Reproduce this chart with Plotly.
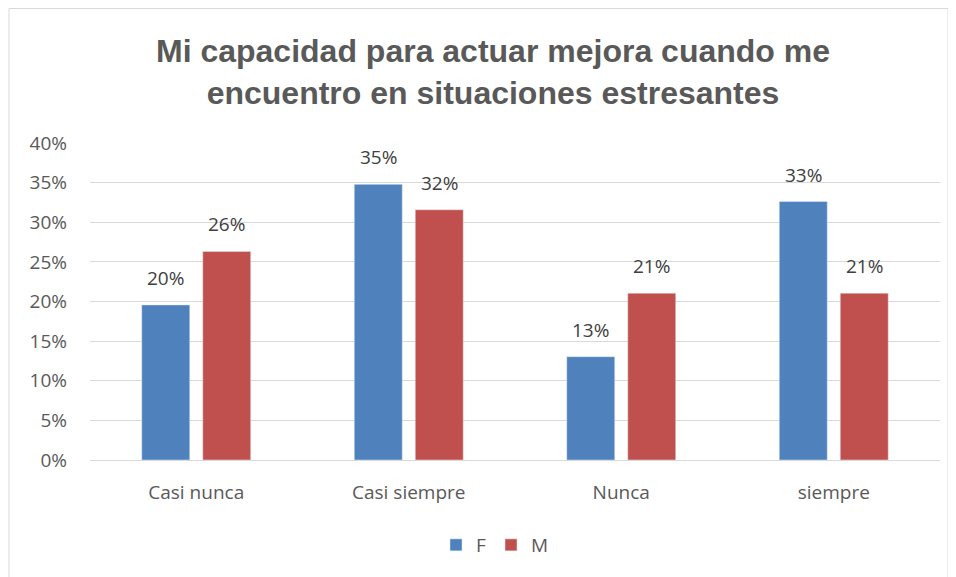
import plotly.graph_objects as go

categories = ["Casi nunca", "Casi siempre", "Nunca", "siempre"]
f_values = [0.1957, 0.3478, 0.1304, 0.3261]
m_values = [0.2632, 0.3158, 0.2105, 0.2105]
tick_vals = [0, 0.05, 0.10, 0.15, 0.20, 0.25, 0.30, 0.35, 0.40]
tick_text = ["0%", "5%", "10%", "15%", "20%", "25%", "30%", "35%", "40%"]

BLUE = "#4F81BD"
RED = "#C0504D"
TXT = "#595959"
FONT = "Open Sans, Lato, sans-serif"

W, H = 948, 569  # page body has an 8px margin
L, R, T, B = 82, 16, 135, 117
PW, PH = W - L - R, H - T - B

fig = go.Figure()
fig.add_trace(go.Bar(name="F", x=categories, y=f_values, marker_color=BLUE))
fig.add_trace(go.Bar(name="M", x=categories, y=m_values, marker_color=RED))

# value labels above the bars
slot = PW / len(categories) * (1 - 0.426) / 2
for series, sign in ((f_values, -1), (m_values, 1)):
    for c, v in zip(categories, series):
        fig.add_annotation(x=c, y=v, xref="x", yref="y", text=f"{v:.0%}",
                           showarrow=False, xshift=sign * slot / 2, yshift=27,
                           yanchor="middle",
                           font=dict(size=19, color="#404040", family=FONT))

fig.update_layout(
    width=W, height=H,
    margin=dict(l=L, r=R, t=T, b=B),
    paper_bgcolor="white", plot_bgcolor="white",
    barmode="group", bargap=0.426, bargroupgap=0.213,
    title=dict(text="<b>Mi capacidad para actuar mejora cuando me<br>encuentro en situaciones estresantes</b>",
               x=485/W, xanchor="center", y=1-54/H, yanchor="middle",
               font=dict(family="Liberation Sans, Arial, sans-serif", size=32, color=TXT)),
    font=dict(family=FONT, color=TXT, size=19),
    showlegend=True,
    legend=dict(orientation="h", x=487/W, xanchor="center", xref="container",
                y=1-537/H, yanchor="middle", yref="container",
                font=dict(size=19, color=TXT, family=FONT), itemwidth=30, traceorder="normal"),
)
fig.update_yaxes(range=[0, 0.40], tickvals=tick_vals, ticktext=tick_text,
                 showgrid=True, gridcolor="#D9D9D9", gridwidth=1, zeroline=False,
                 showline=False, ticks="", ticklabelstandoff=22,
                 tickfont=dict(size=19, color=TXT, family=FONT))
fig.update_xaxes(showline=True, linecolor="#D9D9D9", linewidth=1, ticks="",
                 ticklabelstandoff=15, tickfont=dict(size=19, color=TXT, family=FONT))

fig.add_shape(type="rect", xref="paper", yref="paper",
              x0=(1-L)/PW, x1=(940-L)/PW, y0=-(H-T-PH+20)/PH, y1=(T+PH-0.5)/PH,
              line=dict(color="#D9D9D9", width=1), fillcolor="rgba(0,0,0,0)", layer="below")

fig.write_html("out.html")
